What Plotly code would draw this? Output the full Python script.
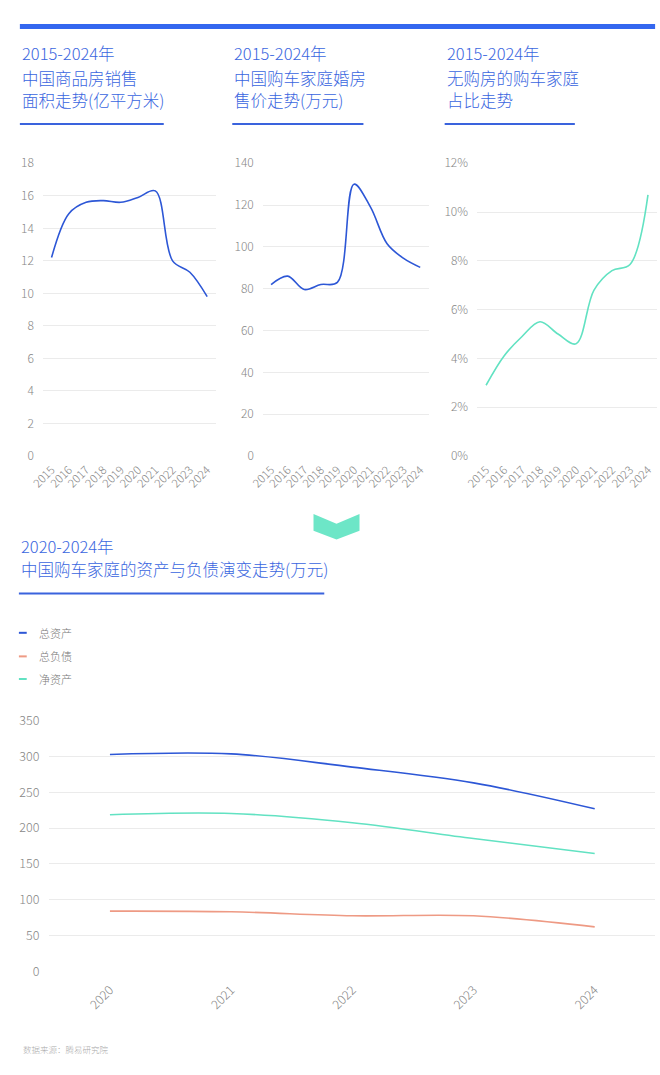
import plotly.graph_objects as go

# ---------------- data ----------------
years_a = ["2015", "2016", "2017", "2018", "2019", "2020", "2021", "2022", "2023", "2024"]
sales_area = [12.2, 14.9, 15.6, 15.7, 15.6, 15.9, 16.3, 12.0, 11.3, 9.8]          # 亿平方米
wedding_price = [82, 86, 79.6, 82, 83, 130, 119, 101.5, 94.5, 90.2]                 # 万元
no_house_share = [2.9, 4.1, 4.9, 5.5, 5.0, 4.6, 6.8, 7.6, 7.85, 10.7]               # %

years_b = ["2020", "2021", "2022", "2023", "2024"]
total_assets = [302.7, 303.5, 285, 263, 226.8]
total_liab = [84.1, 83.2, 77.6, 77.6, 62.2]
net_assets = [218.6, 220.3, 207.4, 185.4, 164.6]

series_names = ["总资产", "总负债", "净资产"]

titles_top = [
    ["2015-2024年", "中国商品房销售", "面积走势(亿平方米)"],
    ["2015-2024年", "中国购车家庭婚房", "售价走势(万元)"],
    ["2015-2024年", "无购房的购车家庭", "占比走势"],
]
title_bottom = ["2020-2024年", "中国购车家庭的资产与负债演变走势(万元)"]
source_text = "数据来源：腾易研究院"

# ---------------- style ----------------
W, H = 660, 1075
BLUE = "#2d57d6"
TEAL = "#62e2c2"
SALMON = "#ee9a84"
TITLE_BLUE = "#3a66e0"
GRID = "#ebebeb"
TICK = "#868686"
FONT = "Noto Sans CJK SC, Noto Sans, sans-serif"


def px(x):
    return x / W


def py(y):
    return 1 - y / H


fig = go.Figure()

fig.add_trace(go.Scatter(x=years_a, y=sales_area, mode="lines", line=dict(color=BLUE, width=1.6, shape="spline", smoothing=1),
                         xaxis="x", yaxis="y", showlegend=False, hoverinfo="skip"))
fig.add_trace(go.Scatter(x=years_a, y=wedding_price, mode="lines", line=dict(color=BLUE, width=1.6, shape="spline", smoothing=1),
                         xaxis="x2", yaxis="y2", showlegend=False, hoverinfo="skip"))
fig.add_trace(go.Scatter(x=years_a, y=no_house_share, mode="lines", line=dict(color=TEAL, width=1.6, shape="spline", smoothing=1),
                         xaxis="x3", yaxis="y3", showlegend=False, hoverinfo="skip"))

bottom_series = [total_assets, total_liab, net_assets]
bottom_colors = [BLUE, SALMON, TEAL]
for name, vals, col in zip(series_names, bottom_series, bottom_colors):
    fig.add_trace(go.Scatter(x=years_b, y=vals, name=name, mode="lines",
                             line=dict(color=col, width=1.6, shape="spline", smoothing=1),
                             xaxis="x4", yaxis="y4", showlegend=False, hoverinfo="skip"))

tick_font_y = dict(family=FONT, size=12, color=TICK, weight=300)
tick_font_x = dict(family=FONT, size=11.5, color=TICK, weight=300)


def xax(domain, anchor, n, font, angle=-45, standoff=4):
    return dict(domain=domain, anchor=anchor, type="category", range=[-0.5, n - 0.5],
                showgrid=False, zeroline=False, showline=False, ticks="",
                tickangle=angle, tickfont=font, ticklabelstandoff=standoff, fixedrange=True)


def yax(domain, anchor, rng, dtick, font, suffix="", standoff=8):
    return dict(domain=domain, anchor=anchor, range=rng, dtick=dtick, tick0=0,
                showgrid=True, gridcolor=GRID, gridwidth=1, zeroline=False, showline=False,
                ticks="", tickfont=font, ticksuffix=suffix, ticklabelstandoff=standoff, fixedrange=True)


ytop = [py(453), py(155)]
big_tick = dict(family=FONT, size=12.5, color=TICK, weight=300)
fig.update_layout(
    xaxis=xax([px(29.5), px(206.2)], "y", 10, tick_font_x),
    yaxis=yax(ytop, "x", [0, 18], 2, tick_font_y),
    xaxis2=xax([px(254.2), px(423.5)], "y2", 10, tick_font_x),
    yaxis2=yax(ytop, "x2", [0, 140], 20, tick_font_y),
    xaxis3=xax([px(473.1), px(656.9)], "y3", 10, tick_font_x),
    yaxis3=yax(ytop, "x3", [0, 12], 2, tick_font_y, "%"),
    xaxis4=xax([px(36.1), px(655.2)], "y4", 5, big_tick, standoff=8),
    yaxis4=yax([py(977.7), py(722.3)], "x4", [0, 350], 50, big_tick, standoff=9),
)

shapes = []
annotations = []

# top blue bar
shapes.append(dict(type="rect", xref="paper", yref="paper", x0=px(6), x1=px(655), y0=py(18.3), y1=py(13.3),
                   fillcolor="#3467ef", line=dict(width=0), layer="above"))

# top titles and underlines
title_x = [6, 223, 440]
underline_end = [153, 357, 573]
line_y = [43, 68, 91]
for tx, ue, lines in zip(title_x, underline_end, titles_top):
    for ly, txt in zip(line_y, lines):
        annotations.append(dict(x=px(tx), y=py(ly), xref="paper", yref="paper", text=txt, showarrow=False,
                                xanchor="left", yanchor="middle",
                                font=dict(family=FONT, size=16.5, color=TITLE_BLUE, weight=300)))
    shapes.append(dict(type="line", xref="paper", yref="paper", x0=px(tx), x1=px(ue), y0=py(115), y1=py(115),
                       line=dict(color="#3a63dd", width=2)))

# chevron divider
chev = [(306, 512), (329.5, 522), (353, 512), (353, 529), (329.5, 538), (306, 529)]
path = "M " + " L ".join(f"{px(a):.5f},{py(b):.5f}" for a, b in chev) + " Z"
shapes.append(dict(type="path", xref="paper", yref="paper", path=path, fillcolor="#6de6c7", line=dict(width=0)))

# bottom title
for ly, txt in zip([545, 568], title_bottom):
    annotations.append(dict(x=px(5), y=py(ly), xref="paper", yref="paper", text=txt, showarrow=False,
                            xanchor="left", yanchor="middle",
                            font=dict(family=FONT, size=16.5, color=TITLE_BLUE, weight=300)))
shapes.append(dict(type="line", xref="paper", yref="paper", x0=px(5), x1=px(317), y0=py(593), y1=py(593),
                   line=dict(color="#3a63dd", width=2)))

# legend (drawn manually, vertical list)
for ly, name, col in zip([633, 657, 680], series_names, bottom_colors):
    shapes.append(dict(type="line", xref="paper", yref="paper", x0=px(5), x1=px(13), y0=py(ly), y1=py(ly),
                       line=dict(color=col, width=2)))
    annotations.append(dict(x=px(24), y=py(ly), xref="paper", yref="paper", text=name, showarrow=False,
                            xanchor="left", yanchor="middle",
                            font=dict(family=FONT, size=11, color="#777777", weight=300)))

# source note
annotations.append(dict(x=px(7), y=py(1057), xref="paper", yref="paper", text=source_text, showarrow=False,
                        xanchor="left", yanchor="middle",
                        font=dict(family=FONT, size=8.5, color="#aaaaaa", weight=300)))

fig.update_layout(
    width=W, height=H, autosize=False,
    margin=dict(l=0, r=0, t=0, b=0, pad=0),
    paper_bgcolor="white", plot_bgcolor="white",
    shapes=shapes, annotations=annotations,
    font=dict(family=FONT),
    showlegend=False, hovermode=False, dragmode=False,
)

fig.write_html(
    "out.html",
    config={"displayModeBar": False, "staticPlot": True},
    post_script=(
        "document.documentElement.style.margin='0';document.documentElement.style.padding='0';"
        "document.documentElement.style.overflow='hidden';"
        "document.body.style.margin='0';document.body.style.padding='0';document.body.style.overflow='hidden';"
        "var gd=document.getElementById('{plot_id}');gd.style.position='absolute';gd.style.left='0px';gd.style.top='0px';"
    ),
)
